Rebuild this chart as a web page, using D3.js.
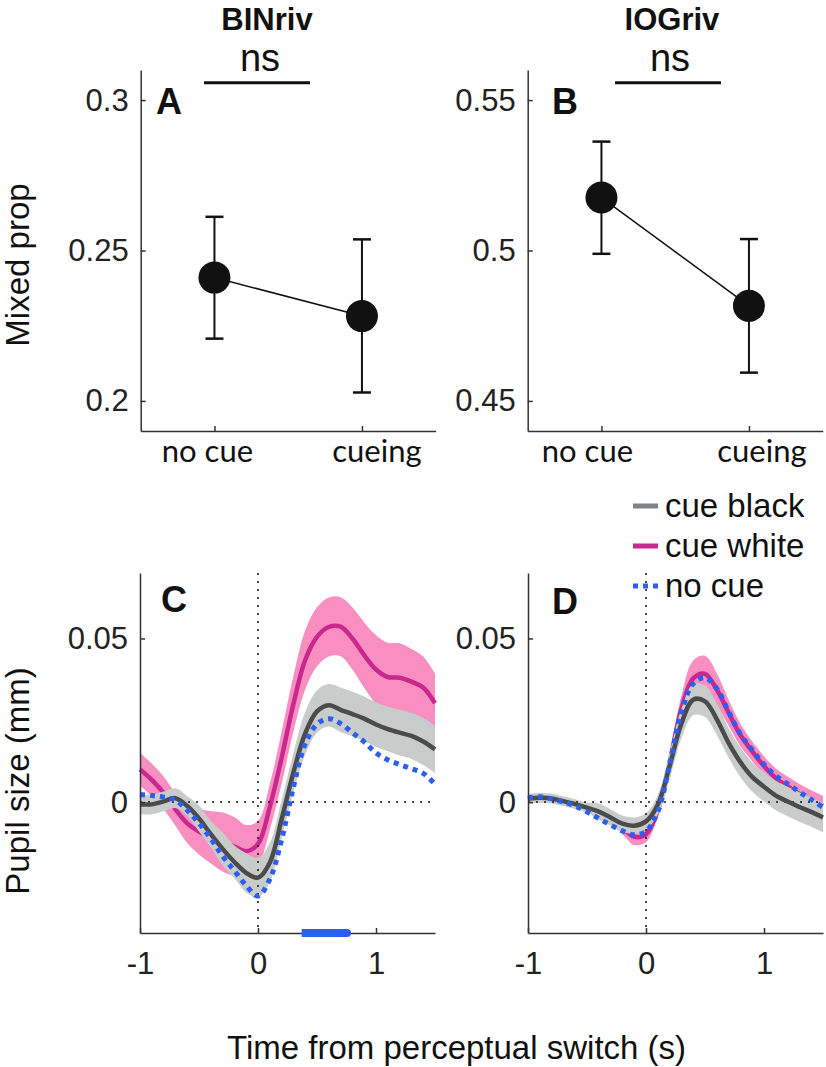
<!DOCTYPE html>
<html><head><meta charset="utf-8">
<script src="https://cdn.jsdelivr.net/npm/d3@7"></script>
<style>body{margin:0;background:#fff}svg{display:block}</style>
</head><body><svg id="chart" width="826" height="1067"></svg>
<script>
// ---------- data: top panels (mixed proportion) ----------
const conditions = ["no cue", "cueing"];
const binMean = [0.2410, 0.2282];
const binLow  = [0.2207, 0.2028];
const binHigh = [0.2612, 0.2537];
const iogMean = [0.5176, 0.4816];
const iogLow  = [0.4989, 0.4594];
const iogHigh = [0.5362, 0.5038];
const binTicks = [0.2, 0.25, 0.3];
const iogTicks = [0.45, 0.5, 0.55];
const panelTitles = ["BINriv", "IOGriv"];
const sigLabel = "ns";

// ---------- data: bottom panels (pupil size, mm) ----------
const time = [-1.0,-0.9,-0.8,-0.7,-0.6,-0.5,-0.4,-0.3,-0.2,-0.1,0.0,0.1,0.2,0.3,0.4,0.5,0.6,0.7,0.8,0.9,1.0,1.1,1.2,1.3,1.4,1.5];
// BINriv
const binBlack   = [-0.0007,-0.0007,0.0002,0.0012,-0.0012,-0.0050,-0.0098,-0.0143,-0.0183,-0.0216,-0.0231,-0.0185,-0.0053,0.0090,0.0210,0.0277,0.0296,0.0282,0.0269,0.0255,0.0237,0.0223,0.0212,0.0202,0.0185,0.0161];
const binBlackSe = [0.003,0.003,0.003,0.003,0.003,0.004,0.004,0.005,0.005,0.006,0.006,0.006,0.006,0.006,0.0065,0.0065,0.0065,0.0068,0.0068,0.0068,0.0068,0.0068,0.007,0.007,0.0072,0.0072];
const binWhite   = [0.0100,0.0068,0.0028,-0.0022,-0.0065,-0.0090,-0.0108,-0.0122,-0.0136,-0.0150,-0.0128,-0.0015,0.0135,0.0300,0.0434,0.0505,0.0535,0.0536,0.0500,0.0449,0.0405,0.0382,0.0380,0.0368,0.0350,0.0302];
const binWhiteSe = [0.005,0.005,0.005,0.005,0.006,0.007,0.008,0.009,0.009,0.008,0.007,0.007,0.008,0.0085,0.009,0.009,0.009,0.009,0.0095,0.010,0.0105,0.0105,0.0105,0.010,0.0095,0.009];
const binNoCue   = [0.0023,0.0020,0.0015,0.0006,-0.0025,-0.0065,-0.0112,-0.0165,-0.0210,-0.0255,-0.0287,-0.0236,-0.0115,0.0045,0.0178,0.0238,0.0255,0.0240,0.0212,0.0184,0.0150,0.0129,0.0115,0.0102,0.0088,0.0055];
// IOGriv
const iogBlack   = [0.0010,0.0013,0.0011,0.0003,-0.0006,-0.0017,-0.0029,-0.0047,-0.0066,-0.0072,-0.0059,-0.0008,0.0110,0.0240,0.0313,0.0308,0.0253,0.0181,0.0122,0.0077,0.0047,0.0020,0.0002,-0.0015,-0.0030,-0.0047];
const iogBlackSe = [0.0015,0.0015,0.0015,0.0015,0.0015,0.0015,0.0025,0.0025,0.0025,0.0025,0.0025,0.003,0.004,0.0045,0.0048,0.0048,0.0048,0.0045,0.0045,0.0045,0.0045,0.0045,0.0045,0.0045,0.0045,0.0045];
const iogWhite   = [0.0008,0.0013,0.0010,0.0002,-0.0006,-0.0015,-0.0030,-0.0050,-0.0078,-0.0106,-0.0098,-0.0025,0.0120,0.0285,0.0378,0.0392,0.0344,0.0273,0.0205,0.0155,0.0110,0.0073,0.0048,0.0025,0.0006,-0.0011];
const iogWhiteSe = [0.0012,0.0012,0.0012,0.0012,0.0012,0.0012,0.0012,0.0015,0.002,0.0025,0.0025,0.002,0.003,0.004,0.0055,0.0055,0.005,0.004,0.0035,0.003,0.003,0.003,0.003,0.003,0.003,0.003];
const iogNoCue   = [0.0013,0.0016,0.0010,0.0000,-0.0012,-0.0030,-0.0050,-0.0070,-0.0088,-0.0100,-0.0089,-0.0030,0.0115,0.0275,0.0362,0.0380,0.0347,0.0276,0.0208,0.0160,0.0115,0.0080,0.0056,0.0031,0.0008,-0.0016];
const pupilTicksY = [0, 0.05];
const pupilTicksX = [-1, 0, 1];
const sigRange = [0.37, 0.78];   // significant window, BINriv
const legendNames = ["cue black", "cue white", "no cue"];

// ---------- styling ----------
const FONT = "'Liberation Sans', Arial, Helvetica, sans-serif";
const CAT_FONT = "Lato, 'Open Sans', sans-serif";
const AX = "#333";
const colGrayBand = "#c8cccb", colGrayLine = "#4b4b4b", colGrayLeg = "#7f8585";
const colPinkBand = "#f98fc1", colPinkLine = "#c9288f";
const colBlue = "#2c5ef2";

const svg = d3.select("#chart");
svg.append("rect").attr("width",826).attr("height",1067).attr("fill","#fff");

function styleAxis(g){
  g.select(".domain").attr("stroke",AX).attr("stroke-width",1.5);
  g.selectAll(".tick line").attr("stroke",AX).attr("stroke-width",1.5);
  g.selectAll(".tick text").attr("fill","#222").style("font-family",FONT).style("font-size","31px");
}

// ---------- top panels ----------
const topY = [70, 431];
const topPanels = [
  {x0:140.7, mean:binMean, lo:binLow, hi:binHigh, ticks:binTicks, dom:[0.19,0.31], letter:"A", letterX:156,
   title:panelTitles[0], titleX:267, nsX:[204,310], nsTextX:260, labOff:[-7,15], fmt:d=>d3.format("")(d)},
  {x0:527.7, mean:iogMean, lo:iogLow, hi:iogHigh, ticks:iogTicks, dom:[0.44,0.56], letter:"B", letterX:552,
   title:panelTitles[1], titleX:672, nsX:[615,721], nsTextX:670, labOff:[-14,13], fmt:d=>d3.format("")(d)}
];
topPanels.forEach(p=>{
  const x = d3.scaleLinear().domain([0.5,2.5]).range([p.x0, p.x0+295]);
  const y = d3.scaleLinear().domain(p.dom).range([topY[1], topY[0]]);
  const g = svg.append("g");
  const ya = g.append("g").attr("transform",`translate(${p.x0},0)`)
    .call(d3.axisLeft(y).tickValues(p.ticks).tickFormat(p.fmt).tickSizeInner(-5).tickSizeOuter(0).tickPadding(12));
  styleAxis(ya);
  const xa = g.append("g").attr("transform",`translate(0,${topY[1]})`)
    .call(d3.axisBottom(x).tickValues([1,2]).tickFormat("").tickSizeInner(-5).tickSizeOuter(0));
  styleAxis(xa);
  conditions.forEach((c,i)=>{
    g.append("text").attr("x",x(i+1)+p.labOff[i]).attr("y",462).attr("text-anchor","middle")
      .style("font-family",CAT_FONT).style("font-size","31px").attr("fill","#111").text(c);
  });
  // connecting line
  g.append("path").datum(p.mean).attr("fill","none").attr("stroke","#111").attr("stroke-width",1.5)
    .attr("d", d3.line().x((d,i)=>x(i+1)).y(d=>y(d)));
  // error bars
  p.mean.forEach((m,i)=>{
    const cx = x(i+1);
    g.append("line").attr("x1",cx).attr("x2",cx).attr("y1",y(p.lo[i])).attr("y2",y(p.hi[i]))
      .attr("stroke","#111").attr("stroke-width",2);
    [p.lo[i],p.hi[i]].forEach(v=>g.append("line").attr("x1",cx-9).attr("x2",cx+9).attr("y1",y(v)).attr("y2",y(v))
      .attr("stroke","#111").attr("stroke-width",2.5));
    g.append("circle").attr("cx",cx).attr("cy",y(m)).attr("r",16).attr("fill","#111");
  });
  g.append("text").attr("x",p.letterX).attr("y",114).style("font-family",FONT).style("font-weight","bold")
    .style("font-size","36px").attr("fill","#111").text(p.letter);
  g.append("text").attr("x",p.titleX).attr("y",30).attr("text-anchor","middle").style("font-family",FONT)
    .style("font-weight","bold").style("font-size","31px").attr("fill","#111").text(p.title);
  g.append("line").attr("x1",p.nsX[0]).attr("x2",p.nsX[1]).attr("y1",82.7).attr("y2",82.7)
    .attr("stroke","#111").attr("stroke-width",3);
  g.append("text").attr("x",p.nsTextX).attr("y",71).attr("text-anchor","middle").style("font-family",FONT)
    .style("font-size","38px").attr("fill","#111").text(sigLabel);
});
svg.append("text").attr("transform","translate(29,265) rotate(-90)").attr("text-anchor","middle")
  .style("font-family",FONT).style("font-size","33px").attr("fill","#111").text("Mixed prop");

// ---------- bottom panels ----------
const botY = [573, 933];
const yB = d3.scaleLinear().domain([-0.04,0.07]).range([botY[1], botY[0]]);
const botPanels = [
  {x0:140, black:binBlack, blackSe:binBlackSe, white:binWhite, whiteSe:binWhiteSe, nocue:binNoCue, letter:"C", letterX:161, letterY:612, sig:true},
  {x0:528, black:iogBlack, blackSe:iogBlackSe, white:iogWhite, whiteSe:iogWhiteSe, nocue:iogNoCue, letter:"D", letterX:552, letterY:614, sig:false}
];
const curve = d3.curveCatmullRom.alpha(0.5);
botPanels.forEach(p=>{
  const x = d3.scaleLinear().domain([-1,1.5]).range([p.x0, p.x0+295]);
  const g = svg.append("g");
  const area = (m,se)=>d3.area().curve(curve).x((d,i)=>x(time[i])).y0((d,i)=>yB(m[i]-se[i])).y1((d,i)=>yB(m[i]+se[i]));
  const line = d3.line().curve(curve).x((d,i)=>x(time[i])).y(d=>yB(d));
  g.append("path").datum(time).attr("fill",colPinkBand).attr("d",area(p.white,p.whiteSe)(time));
  g.append("path").datum(p.white).attr("fill","none").attr("stroke",colPinkLine).attr("stroke-width",4.5).attr("d",line);
  g.append("path").datum(time).attr("fill",colGrayBand).attr("d",area(p.black,p.blackSe)(time));
  // reference lines
  g.append("line").attr("x1",x(-1)).attr("x2",x(1.5)).attr("y1",yB(0)).attr("y2",yB(0))
    .attr("stroke","#111").attr("stroke-width",1.5).attr("stroke-dasharray","2,6");
  g.append("line").attr("x1",x(0)).attr("x2",x(0)).attr("y1",botY[0]).attr("y2",botY[1])
    .attr("stroke","#111").attr("stroke-width",1.5).attr("stroke-dasharray","2,6");
  g.append("path").datum(p.black).attr("fill","none").attr("stroke",colGrayLine).attr("stroke-width",4.5).attr("d",line);
  g.append("path").datum(p.nocue).attr("fill","none").attr("stroke",colBlue).attr("stroke-width",5)
    .attr("stroke-dasharray","5,5").attr("d",line);
  const ya = g.append("g").attr("transform",`translate(${p.x0},0)`)
    .call(d3.axisLeft(yB).tickValues(pupilTicksY).tickFormat(d3.format("")).tickSizeInner(-5).tickSizeOuter(0).tickPadding(12));
  styleAxis(ya);
  const xa = g.append("g").attr("transform",`translate(0,${botY[1]})`)
    .call(d3.axisBottom(x).tickValues(pupilTicksX).tickFormat(d=>String(d)).tickSizeInner(-5).tickSizeOuter(0).tickPadding(19));
  styleAxis(xa);
  if(p.sig){
    g.append("line").attr("x1",x(sigRange[0])).attr("x2",x(sigRange[1])-3).attr("y1",botY[1]).attr("y2",botY[1])
      .attr("stroke",colBlue).attr("stroke-width",8);
    g.append("circle").attr("cx",x(sigRange[1])-3).attr("cy",botY[1]).attr("r",4).attr("fill",colBlue);
  }
  g.append("text").attr("x",p.letterX).attr("y",p.letterY).style("font-family",FONT).style("font-weight","bold")
    .style("font-size","36px").attr("fill","#111").text(p.letter);
});
svg.append("text").attr("transform","translate(29,781) rotate(-90)").attr("text-anchor","middle")
  .style("font-family",FONT).style("font-size","33px").attr("fill","#111").text("Pupil size (mm)");
svg.append("text").attr("x",227).attr("y",1059).attr("text-anchor","start")
  .style("font-family",FONT).style("font-size","33px").attr("fill","#111").text("Time from perceptual switch (s)");

// ---------- legend ----------
const legColors = [colGrayLeg, colPinkLine, colBlue];
const legDash = [null, null, "5,5"];
const leg = svg.append("g");
legendNames.forEach((n,i)=>{
  const yy = 506 + i*40;
  leg.append("line").attr("x1",633).attr("x2",658).attr("y1",yy).attr("y2",yy)
    .attr("stroke",legColors[i]).attr("stroke-width",5).attr("stroke-dasharray",legDash[i]);
  leg.append("text").attr("x",665).attr("y",yy+11).style("font-family",FONT).style("font-size","33px")
    .attr("fill","#111").text(n);
});
</script></body></html>
